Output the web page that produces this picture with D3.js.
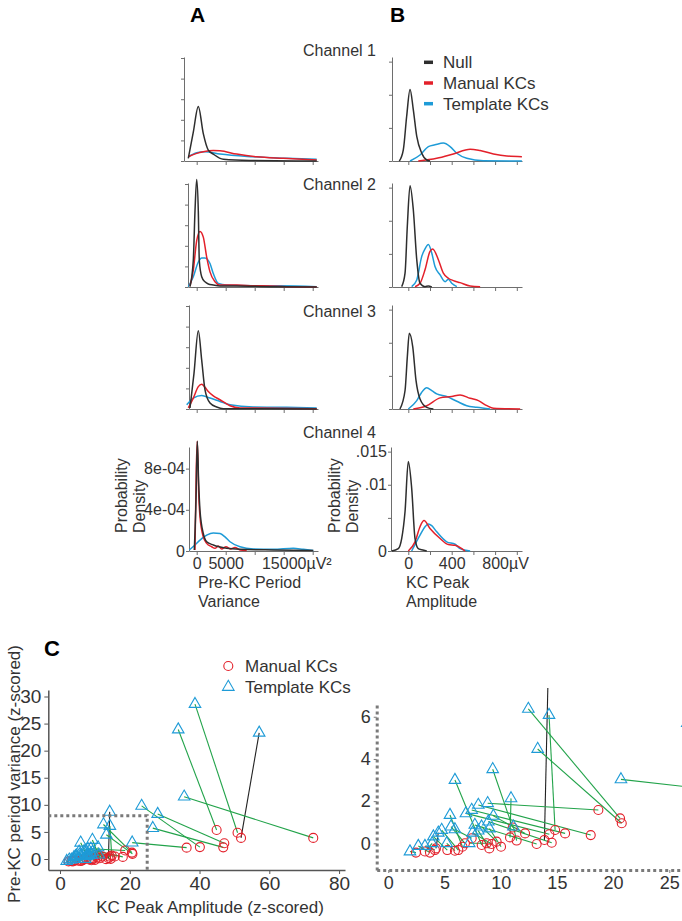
<!DOCTYPE html>
<html>
<head>
<meta charset="utf-8">
<script src="https://cdnjs.cloudflare.com/ajax/libs/d3/7.8.5/d3.min.js"></script>
<style>
  body { margin: 0; background: #fff; }
  svg { font-family: "Liberation Sans", Arial, sans-serif; }
</style>
</head>
<body>
<svg id="fig" width="682" height="921"></svg>
<script>
const CHANNELS = ['Channel 1', 'Channel 2', 'Channel 3', 'Channel 4']
const SERIES = ['Null', 'Manual KCs', 'Template KCs']
const COLORS = ['#2e2e2e', '#e3202a', '#1e9bd7']

const A_TICKS = [0, 5000, 10000, 15000, 20000]
const A_LABELS = {0: '0', 5000: '5000', 15000: '15000'}
const B_TICKS = [0, 200, 400, 600, 800, 1000]
const B_LABELS = {0: '0', 400: '400', 800: '800'}

// A: pre-KC period variance density, x in µV², y in units of 1e-4
const varNull = [
  [[-1450, 0.25], [-586, 2.8], [276, 5.3], [1138, 2.66], [2000, 1.06], [2862, 0.67], [4586, 0.16], [9190, 0.05], [20700, 0]],
  [[-1155, 0.03], [-586, 2.6], [-293, 7.4], [0, 10.45], [276, 7.4], [448, 2.6], [862, 1.0], [1431, 0.5], [2000, 0.29], [2862, 0.19], [4017, 0.1], [6897, 0.1], [12637, 0.03], [20690, 0]],
  [[-1155, 0.1], [-466, 3.46], [276, 7.6], [862, 4.74], [1431, 1.86], [2293, 0.58], [3448, 0.19], [4586, 0.03], [20690, 0]],
  [[-414, 0.1], [-121, 4.9], [103, 10.65], [345, 6.5], [569, 3.93], [1138, 1.7], [1724, 0.9], [2862, 0.58], [5172, 0.26], [7466, 0.16], [13207, 0.1], [20103, 0.06]]
]
const varManual = [
  [[-1450, 0.41], [0, 0.74], [1138, 0.9], [2862, 1.02], [4017, 0.99], [6897, 0.67], [10345, 0.41], [14931, 0.26], [20690, 0.1]],
  [[-1155, 0.1], [-586, 1.63], [0, 4.5], [569, 5.4], [1138, 4.84], [1724, 2.9], [2293, 1.47], [3155, 0.51], [4017, 0.19], [6897, 0.19], [9759, 0.13], [12637, 0.1], [15517, 0.03], [20690, 0]],
  [[-1448, 0.1], [-586, 1.06], [276, 2.17], [862, 2.4], [1431, 2.1], [2000, 1.7], [2862, 1.28], [4017, 0.9], [5741, 0.32], [7466, 0.1], [20690, 0.03]],
  [[-300, 0.1], [-69, 8.1], [103, 10.65], [345, 5.6], [569, 3.3], [1138, 1.37], [1724, 0.74], [2586, 0.41], [3155, 0.26], [3724, 0.48], [4310, 0.2], [5052, 0.41], [5862, 0.2], [6603, 0.35], [7466, 0.1], [8621, 0.05]]
]
const varTemplate = [
  [[-1450, 0.41], [0, 0.8], [1431, 0.9], [4017, 0.67], [9759, 0.41], [15517, 0.26], [20690, 0.16]],
  [[-1448, 0.03], [-586, 1.0], [276, 2.43], [862, 2.82], [1431, 2.82], [2293, 2.28], [2862, 1.31], [3724, 0.35], [5172, 0.19], [9759, 0.13], [14362, 0.13], [20690, 0.03]],
  [[-1724, 0.41], [-586, 1.06], [862, 1.31], [2293, 1.06], [4017, 0.73], [5741, 0.41], [9759, 0.19], [15517, 0.16], [20690, 0.1]],
  [[-1276, 0.1], [-293, 0.58], [569, 1.06], [1724, 1.54], [2862, 1.76], [4017, 1.7], [4879, 1.37], [5741, 0.9], [7466, 0.41], [9759, 0.19], [13207, 0.16], [16655, 0.26], [18379, 0.16], [20103, 0.06]]
]

// B: KC peak amplitude density, x in µV, y in units of 1e-3
const ampNull = [
  [[-83, 0], [-46, 1.68], [-15, 6.75], [16, 10.8], [46, 7.77], [78, 3.7], [124, 1.17], [170, 0.15], [200, 0]],
  [[-61, 0.05], [-30, 2.09], [-9, 9.2], [16, 15.3], [46, 11.7], [78, 4.1], [108, 0.56], [154, 0.05], [185, 0.15], [216, 0]],
  [[-77, 0], [-30, 2.79], [-9, 7.87], [9, 11.43], [41, 9.39], [71, 4.31], [108, 1.52], [170, 0.25], [231, 0]],
  [[-153, 0], [-92, 0.36], [-61, 1.88], [-30, 5.96], [0, 13.5], [31, 9.5], [62, 1.88], [92, 0.36], [124, 0.2], [170, 0]]
]
const ampManual = [
  [[92, 0], [262, 0.41], [415, 1.07], [570, 1.78], [662, 1.57], [785, 1.07], [908, 0.76], [1047, 0.66]],
  [[62, 0.05], [108, 0.56], [154, 2.6], [200, 5.38], [225, 5.74], [277, 4.12], [323, 2.09], [369, 1.32], [415, 0.97], [477, 0.66], [570, 0.15], [662, 0.05]],
  [[46, 0], [170, 0.5], [293, 1.68], [400, 1.88], [477, 2.13], [570, 1.62], [646, 1.27], [724, 0.5], [785, 0.1], [1031, 0]],
  [[0, 0], [62, 1.38], [108, 3.67], [145, 4.59], [200, 3.41], [293, 1.88], [369, 0.97], [431, 0.87], [493, 0.36], [523, 0]]
]
const ampTemplate = [
  [[16, 0], [108, 0.91], [185, 2.18], [246, 2.44], [323, 2.7], [385, 2.18], [447, 1.17], [539, 0.41], [692, 0.05], [1047, 0]],
  [[31, 0.05], [78, 1.07], [124, 4.62], [154, 5.74], [185, 6.4], [216, 5.13], [246, 3.09], [293, 1.83], [339, 0.81], [369, 1.17], [400, 0.56], [447, 0.05]],
  [[0, 0], [78, 1.27], [124, 2.54], [170, 3.2], [216, 2.79], [262, 2.28], [354, 1.88], [447, 1.17], [539, 0.5], [631, 0.25], [754, 0]],
  [[31, 0], [108, 2.4], [154, 3.67], [185, 4.08], [216, 3.82], [262, 2.9], [354, 1.38], [431, 1.02], [477, 0.36], [570, 0]]
]

// C: z-scored (amplitude, pre-KC variance) for each KC, template vs manual
const tmplAmp = [38.7, 33.9, 57.1, 35.6, 23.4, 28.0, 26.6, 20.7, 14.25, 12.46, 14.3, 13.29, 5.93, 9.29, 10.92, 8.84, 8.01, 7.42, 6.91, 9.35, 5.49, 8.9, 7.7, 8.3, 11.13, 5.58, 5.93, 4.75, 4.01, 5.2, 7.2, 2.67, 1.93, 3.26, 4.45, 3.9, 7.5, 8.0, 9.0]
const tmplVar = [28.6, 23.9, 23.3, 11.5, 9.8, 8.3, 5.7, 3.03, 8.7, 6.37, 6.08, 4.47, 3.0, 3.51, 2.13, 1.9, 1.82, 1.58, 1.42, 1.3, 1.34, 1.03, 0.87, 0.79, 0.79, 0.79, 0.66, 0.63, 0.32, 0.0, 0.0, -0.13, -0.39, -0.13, 0.5, 0.0, 0.5, 0.6, 0.7]
const manAmp = [50.9, 44.9, 51.9, 72.6, 40.1, 47.1, 46.8, 36.3, 13.89, 20.62, 14.84, 20.77, 8.31, 11.07, 10.83, 18.69, 18.01, 15.73, 14.33, 12.17, 6.6, 14.54, 13.2, 9.64, 11.42, 6.82, 7.42, 6.23, 5.25, 5.93, 8.75, 3.71, 2.46, 4.15, 4.24, 3.26, 9.2, 8.99, 10.03]
const manVar = [4.85, 5.35, 3.9, 3.9, 2.2, 2.9, 2.15, 2.1, 0.16, 1.18, 0.63, 0.95, -0.08, 0.75, 0.28, 1.58, 0.39, 0.47, 0.43, 0.47, -0.16, 0.03, -0.03, 0.08, 0.13, 0.0, 0.24, -0.32, -0.32, -0.35, 0.0, -0.44, -0.44, -0.32, -0.24, -0.39, -0.03, -0.24, -0.16]
const linkColor = ['g', 'g', 'k', 'g', 'g', 'g', 'g', 'g', 'k', 'g', 'g', 'g', 'g', 'g', 'g', 'g', 'g', 'g', 'g', 'g', 'g', 'g', 'g', 'g', 'g', 'g', 'g', 'g', 'g', 'g', 'g', 'g', 'g', 'g', 'k', 'g', 'g', 'g', 'g']

const C_LEFT_X_TICKS = [0, 20, 40, 60, 80]
const C_LEFT_Y_TICKS = [0, 5, 10, 15, 20, 25, 30]
const C_RIGHT_X_TICKS = [0, 5, 10, 15, 20, 25]
const C_RIGHT_Y_TICKS = [0, 2, 4, 6]

// layout (pixels)
const rowBase = [161, 287, 409, 551]
const aAxisX = [184, 188, 189, 189]
const bAxisX = [392, 392, 392, 391]
const TEXT = '#333'
const AXIS = '#6e6e6e'

const svg = d3.select('#fig')

const xA0 = d3.scaleLinear().domain([0, 5000]).range([196.7, 225.7])
const xB0 = d3.scaleLinear().domain([0, 200]).range([408.3, 430])

function styleAxis(g) {
    g.select('.domain').attr('stroke', AXIS)
    g.selectAll('.tick line').attr('stroke', AXIS)
    g.selectAll('.tick text').attr('fill', TEXT).style('font-size', '16px')
}

function drawDensity(i, panel) {
    const isA = panel === 'A'
    const axX = isA ? aAxisX[i] : bAxisX[i]
    const right = isA ? 318 : 522
    const base = isA ? xA0 : xB0
    const x = base.copy().domain([base.invert(axX), base.invert(right)]).range([axX, right])
    const y = d3.scaleLinear().domain([0, isA ? 10.1 : 15.7]).range([rowBase[i], rowBase[i] - 104])
    const last = i === 3

    const g = svg.append('g')

    // x axis
    const xAxis = d3.axisBottom(x)
        .tickValues(isA ? A_TICKS : B_TICKS)
        .tickSize(4).tickSizeOuter(0)
        .tickFormat(d => last ? ((isA ? A_LABELS : B_LABELS)[d] || '') : '')
    const xg = g.append('g')
        .attr('transform', `translate(0,${rowBase[i]})`)
        .call(xAxis)
        .call(styleAxis)
    if (last) {
        const unitTick = isA ? 15000 : 800
        xg.selectAll('.tick text').filter(d => d === unitTick).each(function() {
            const w = this.getComputedTextLength()
            d3.select(this).attr('text-anchor', 'start').attr('x', -w / 2)
                .append('tspan').text(isA ? 'µV²' : 'µV')
        })
    }

    // y axis
    let yAxis
    if (isA) {
        yAxis = last
            ? d3.axisLeft(y).tickValues([0, 4, 8]).tickFormat(d => d === 0 ? '0' : `${d}e-04`)
            : d3.axisLeft(y).tickValues([0, 2, 4, 6, 8, 10]).tickFormat('')
    } else {
        yAxis = d3.axisLeft(y).tickValues([0, 5, 10, 15])
            .tickFormat(d => last ? ({0: '0', 10: '.01', 15: '.015'}[d] || '') : '')
    }
    g.append('g')
        .attr('transform', `translate(${axX},0)`)
        .call(yAxis.tickSize(3).tickPadding(1).tickSizeOuter(0))
        .call(styleAxis)

    const line = d3.line().x(d => x(d[0])).y(d => y(d[1])).curve(d3.curveMonotoneX)
    const series = isA ? [varTemplate, varManual, varNull] : [ampTemplate, ampManual, ampNull]
    const cols = [COLORS[2], COLORS[1], COLORS[0]]
    series.forEach((s, k) => {
        g.append('path')
            .datum(s[i])
            .attr('fill', 'none')
            .attr('stroke', cols[k])
            .attr('stroke-width', 1.5)
            .attr('d', line)
    })
}

for (let i = 0; i < 4; i++) {
    drawDensity(i, 'A')
    drawDensity(i, 'B')
}

// panel letters
svg.append('text').attr('x', 190).attr('y', 22).text('A')
    .style('font-size', '21px').style('font-weight', 'bold')
svg.append('text').attr('x', 390).attr('y', 22).text('B')
    .style('font-size', '21px').style('font-weight', 'bold')
svg.append('text').attr('x', 44).attr('y', 656).text('C')
    .style('font-size', '22px').style('font-weight', 'bold')

// channel titles
const chanY = [56, 190, 317, 438]
CHANNELS.forEach((c, i) => {
    svg.append('text').attr('x', 303).attr('y', chanY[i]).text(c)
        .attr('fill', TEXT).style('font-size', '16px')
})

// legend for A/B
SERIES.forEach((s, i) => {
    const yy = 62.3 + i * 20.7
    svg.append('line').attr('x1', 424).attr('x2', 433).attr('y1', yy).attr('y2', yy)
        .attr('stroke', COLORS[i]).attr('stroke-width', 3.5)
    svg.append('text').attr('x', 443).attr('y', yy + 6).text(s)
        .attr('fill', TEXT).style('font-size', '17px')
})

// axis titles for A/B
function rotLabel(x, lines) {
    lines.forEach((t, k) => {
        svg.append('text')
            .attr('transform', `translate(${x + k * 18},533) rotate(-90)`)
            .text(t).attr('fill', TEXT).style('font-size', '16px')
    })
}
rotLabel(127, ['Probability', 'Density'])
rotLabel(340, ['Probability', 'Density'])

const botTitles = [[198, ['Pre-KC Period', 'Variance']], [406, ['KC Peak', 'Amplitude']]]
botTitles.forEach(([x, lines]) => {
    lines.forEach((t, k) => {
        svg.append('text').attr('x', x).attr('y', 588 + k * 19).text(t)
            .attr('fill', TEXT).style('font-size', '16px')
    })
})

// ---------- panel C ----------
const GREEN = '#22a34a'
const RED = '#e3202a'
const BLUE = '#1e9bd7'
const DOT = '#7a7a7a'
const tri = d3.symbol().type(d3.symbolTriangle).size(58)

function drawPairs(g, x, y) {
    const idx = d3.range(tmplAmp.length)
    g.append('g').selectAll('line').data(idx).enter().append('line')
        .attr('x1', i => x(tmplAmp[i])).attr('y1', i => y(tmplVar[i]))
        .attr('x2', i => x(manAmp[i])).attr('y2', i => y(manVar[i]))
        .attr('stroke', i => linkColor[i] === 'k' ? '#222' : GREEN)
        .attr('stroke-width', 1.1)
    g.append('g').selectAll('circle').data(idx).enter().append('circle')
        .attr('cx', i => x(manAmp[i])).attr('cy', i => y(manVar[i]))
        .attr('r', 4.5).attr('fill', 'none').attr('stroke', RED).attr('stroke-width', 1.1)
    g.append('g').selectAll('path').data(idx).enter().append('path')
        .attr('d', tri)
        .attr('transform', i => `translate(${x(tmplAmp[i])},${y(tmplVar[i])})`)
        .attr('fill', 'none').attr('stroke', BLUE).attr('stroke-width', 1.1)
}

// left scatter
const xL = d3.scaleLinear().domain([-3.35, 81.7]).range([48.3, 345])
const yL = d3.scaleLinear().domain([-2.03, 31.2]).range([870, 690])

const styleC = (size) => (g) => {
    g.select('.domain').attr('stroke', '#555').attr('stroke-width', 1.5)
    g.selectAll('.tick line').attr('stroke', '#555')
    g.selectAll('.tick text').attr('fill', TEXT).style('font-size', size)
}

svg.append('g').attr('transform', 'translate(0,870)')
    .call(d3.axisBottom(xL).tickValues(C_LEFT_X_TICKS).tickSize(4).tickSizeOuter(0))
    .call(styleC('19px'))
svg.append('g').attr('transform', 'translate(48.3,0)')
    .call(d3.axisLeft(yL).tickValues(C_LEFT_Y_TICKS).tickSize(4).tickSizeOuter(0))
    .call(styleC('19px'))

drawPairs(svg.append('g'), xL, yL)

// zoom box
svg.append('path')
    .attr('d', d3.line()([[xL(-3.35), yL(8)], [xL(25), yL(8)], [xL(25), yL(-2.03)]]))
    .attr('fill', 'none').attr('stroke', DOT).attr('stroke-width', 3).attr('stroke-dasharray', '3,3')

// titles C
svg.append('text').attr('transform', 'translate(20,774) rotate(-90)')
    .attr('text-anchor', 'middle').text('Pre-KC period variance (z-scored)')
    .attr('fill', TEXT).style('font-size', '17px')
svg.append('text').attr('x', 210).attr('y', 913).attr('text-anchor', 'middle')
    .text('KC Peak Amplitude (z-scored)').attr('fill', TEXT).style('font-size', '17px')

// legend C
svg.append('circle').attr('cx', 228.3).attr('cy', 666).attr('r', 4.5)
    .attr('fill', 'none').attr('stroke', RED).attr('stroke-width', 1.1)
svg.append('path').attr('d', tri).attr('transform', 'translate(228.3,687)')
    .attr('fill', 'none').attr('stroke', BLUE).attr('stroke-width', 1.1)
svg.append('text').attr('x', 245).attr('y', 672).text('Manual KCs')
    .attr('fill', TEXT).style('font-size', '17px')
svg.append('text').attr('x', 245).attr('y', 693).text('Template KCs')
    .attr('fill', TEXT).style('font-size', '17px')

// right scatter (zoomed view)
const xR = d3.scaleLinear().domain([-1.03, 26.13]).range([376.7, 682])
const yR = d3.scaleLinear().domain([-1.265, 6.557]).range([870, 705])

svg.append('defs').append('clipPath').attr('id', 'clipR')
    .append('rect').attr('x', 376.7).attr('y', 688).attr('width', 306).attr('height', 182)

const rx = svg.append('g').attr('transform', 'translate(0,870)')
    .call(d3.axisBottom(xR).tickValues(C_RIGHT_X_TICKS).tickSize(3).tickSizeOuter(0))
    .call(styleC('18px'))
rx.select('.domain').attr('stroke', DOT).attr('stroke-width', 3).attr('stroke-dasharray', '3,3')
rx.selectAll('.tick line').attr('stroke', DOT)
const ry = svg.append('g').attr('transform', 'translate(376.7,0)')
    .call(d3.axisLeft(yR).tickValues(C_RIGHT_Y_TICKS).tickSize(3).tickSizeOuter(0))
    .call(styleC('18px'))
ry.select('.domain').attr('stroke', DOT).attr('stroke-width', 3).attr('stroke-dasharray', '3,3')
ry.selectAll('.tick line').attr('stroke', DOT)

drawPairs(svg.append('g').attr('clip-path', 'url(#clipR)'), xR, yR)
</script>
</body>
</html>
